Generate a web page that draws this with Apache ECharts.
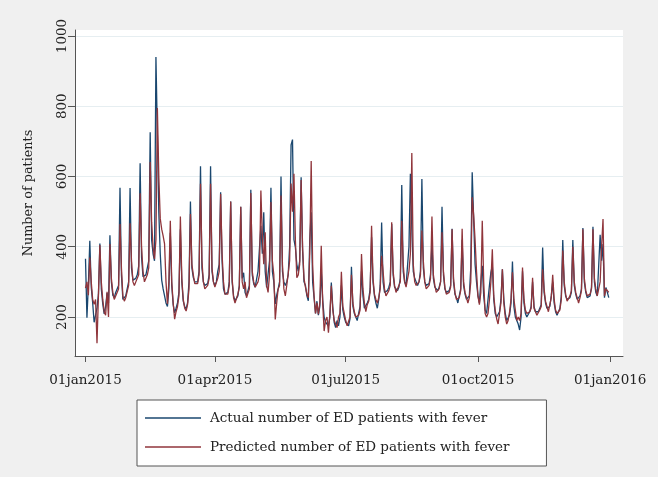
<!DOCTYPE html>
<html><head><meta charset="utf-8">
<script src="https://cdn.jsdelivr.net/npm/echarts@6/dist/echarts.min.js"></script>
<style>html,body{margin:0;padding:0;background:#f0f0f0}#c{width:658px;height:477px}</style>
</head><body><div id="c"></div><script>
// x = day index from 01jan2015
const tickDays = [0, 90, 181, 273, 365];
const tickLabels = ['01jan2015', '01apr2015', '01jul2015', '01oct2015', '01jan2016'];
const yTicks = [200, 400, 600, 800, 1000];
const seriesNames = ['Actual number of ED patients with fever', 'Predicted number of ED patients with fever'];

const actual = [
366, 198, 292,
417, 285, 240, 185, 180, 225, 265,
409, 280, 237, 209, 230, 268, 240,
433, 300, 262, 255, 270, 265, 290,
568, 320, 250, 245, 260, 265, 300,
567, 340, 305, 300, 310, 320, 345,
638, 370, 315, 310, 320, 340, 360,
726, 420, 380, 360, 940, 720, 498,
380, 305, 280, 260, 240, 230, 280,
440, 290, 235, 212, 225, 240, 270,
450, 300, 245, 230, 223, 240, 300,
529, 340, 312, 300, 295, 300, 330,
629, 340, 300, 290, 285, 295, 320,
629, 330, 300, 290, 300, 330, 350,
555, 360, 280, 265, 262, 270, 300,
529, 300, 260, 246, 250, 260, 290,
514, 310, 326, 270, 260, 262, 290,
562, 320, 295, 285, 290, 330, 394,
460, 380, 498, 330, 284, 280, 360,
568, 330, 300, 237, 262, 280, 300,
600, 330, 300, 290, 300, 320, 400,
690, 705, 420, 398, 350, 330, 360,
598, 390, 300, 290, 260, 246, 420,
498, 300, 255, 210, 245, 205, 230,
330, 250, 200, 185, 180, 175, 200,
298, 230, 185, 170, 190, 175, 200,
290, 220, 200, 185, 180, 175, 195,
343, 230, 210, 200, 190, 210, 230,
330, 260, 225, 230, 240, 250, 280,
427, 300, 260, 240, 225, 250, 290,
469, 300, 270, 265, 275, 285, 300,
465, 320, 285, 280, 275, 285, 310,
576, 330, 300, 290, 295, 400, 608,
450, 330, 310, 300, 290, 300, 330,
593, 340, 300, 290, 285, 295, 320,
408, 310, 285, 280, 275, 285, 300,
514, 320, 280, 270, 265, 275, 290,
451, 300, 265, 255, 240, 260, 280,
420, 290, 265, 250, 245, 260, 340,
612, 480, 350, 300, 260, 240, 300,
346, 260, 220, 210, 215, 290, 327,
346, 250, 210, 200, 195, 215, 250,
336, 250, 210, 190, 195, 205, 240,
358, 230, 200, 190, 180, 163, 200,
330, 240, 210, 200, 205, 215, 230,
300, 230, 215, 210, 215, 220, 235,
398, 270, 240, 225, 220, 230, 260,
300, 240, 215, 205, 210, 225, 260,
419, 290, 260, 250, 250, 255, 270,
419, 290, 265, 250, 245, 260, 280,
453, 300, 270, 255, 250, 260, 285,
457, 300, 270, 260, 265, 434, 360,
408, 255, 284, 270, 255
];

const predicted = [
282, 300, 262,
369, 300, 250, 236, 250, 125, 260,
405, 300, 250, 215, 205, 272, 200,
408, 310, 270, 250, 260, 255, 280,
465, 340, 260, 245, 255, 260, 290,
467, 360, 300, 290, 300, 305, 320,
552, 400, 330, 300, 310, 320, 340,
641, 470, 400, 365, 420, 795, 600,
480, 450, 431, 408, 300, 237, 300,
474, 300, 240, 194, 215, 230, 260,
486, 310, 250, 225, 217, 235, 280,
493, 350, 320, 295, 290, 295, 320,
579, 360, 300, 280, 280, 290, 310,
579, 340, 300, 285, 290, 310, 330,
550, 380, 300, 265, 260, 265, 290,
529, 310, 255, 240, 245, 265, 285,
514, 300, 280, 300, 255, 260, 280,
553, 330, 300, 285, 280, 300, 320,
560, 430, 350, 441, 290, 270, 320,
527, 360, 320, 193, 240, 280, 290,
546, 350, 280, 260, 290, 323, 360,
580, 500, 608, 420, 312, 320, 350,
590, 400, 310, 285, 265, 255, 380,
644, 350, 260, 210, 240, 208, 240,
403, 240, 160, 190, 200, 155, 210,
289, 220, 190, 180, 170, 200, 210,
329, 230, 210, 190, 175, 170, 200,
320, 240, 215, 200, 200, 205, 220,
379, 280, 240, 215, 235, 245, 270,
460, 310, 265, 250, 240, 255, 280,
374, 330, 280, 260, 265, 275, 290,
470, 330, 290, 270, 280, 290, 300,
474, 350, 300, 285, 290, 330, 380,
667, 350, 300, 290, 285, 300, 320,
446, 360, 300, 280, 280, 290, 310,
486, 320, 290, 270, 275, 280, 300,
441, 330, 285, 265, 260, 270, 285,
450, 310, 270, 250, 245, 255, 275,
451, 300, 270, 255, 240, 255, 300,
541, 490, 420, 330, 260, 235, 270,
474, 300, 210, 200, 210, 250, 300,
393, 260, 220, 195, 180, 210, 240,
336, 240, 200, 180, 190, 215, 250,
327, 250, 220, 190, 200, 190, 210,
341, 250, 220, 210, 205, 215, 225,
312, 225, 215, 205, 210, 220, 230,
336, 280, 245, 230, 215, 235, 255,
320, 250, 220, 210, 215, 220, 250,
389, 300, 265, 245, 250, 260, 275,
400, 300, 270, 255, 240, 255, 275,
450, 310, 275, 260, 255, 265, 280,
450, 310, 280, 260, 260, 300, 400,
479, 260, 280, 275, 270
];

const font = '"DejaVu Serif", "Liberation Serif", serif';
const blue = '#1a476f', red = '#90353b';
const chart = echarts.init(document.getElementById('c'), null, {renderer: 'canvas'});
chart.setOption({
  backgroundColor: '#f0f0f0',
  animation: false,
  textStyle: {fontFamily: font},
  grid: {left: 75, right: 35, top: 30, bottom: 121, show: true, backgroundColor: '#ffffff', borderWidth: 0},
  xAxis: {
    type: 'value', min: -7.3, max: 373.9,
    axisLine: {show: true, onZero: false, lineStyle: {color: '#555', width: 1}},
    axisTick: {show: true, customValues: tickDays, length: 6, lineStyle: {color: '#555'}},
    axisLabel: {customValues: tickDays, formatter: v => tickLabels[tickDays.indexOf(v)] || '', margin: 17, fontSize: 13.5, color: '#222', fontFamily: font},
    splitLine: {show: false}
  },
  yAxis: {
    type: 'value', min: 89, max: 1017,
    name: 'Number of patients', nameLocation: 'middle', nameRotate: 90, nameGap: 40,
    nameTextStyle: {fontSize: 12.8, color: '#222', fontFamily: font},
    axisLine: {show: true, onZero: false, lineStyle: {color: '#555', width: 1}},
    axisTick: {show: true, customValues: yTicks, length: 7, lineStyle: {color: '#555'}},
    axisLabel: {customValues: yTicks, formatter: v => String(v), rotate: 90, margin: 6, fontSize: 13.5, color: '#222', fontFamily: font},
    splitLine: {show: true, lineStyle: {color: '#e6eef1', width: 1}}
  },
  legend: {
    orient: 'vertical', left: 137, top: 400,
    padding: [11, 37, 12, 8], itemWidth: 56, itemHeight: 1.5, itemGap: 15,
    icon: 'rect',
    borderColor: '#555', borderWidth: 1, backgroundColor: '#ffffff', borderRadius: 0,
    textStyle: {fontSize: 13.5, color: '#222', fontFamily: font, padding: [0, 0, 0, 4]},
    data: seriesNames
  },
  series: [
    {name: seriesNames[0], type: 'line', data: actual.map((v, i) => [i, v]), symbol: 'none',
     lineStyle: {color: blue, width: 1.3}, itemStyle: {color: blue}},
    {name: seriesNames[1], type: 'line', data: predicted.map((v, i) => [i, v]), symbol: 'none',
     lineStyle: {color: red, width: 1.3}, itemStyle: {color: red}}
  ]
});
</script></body></html>
